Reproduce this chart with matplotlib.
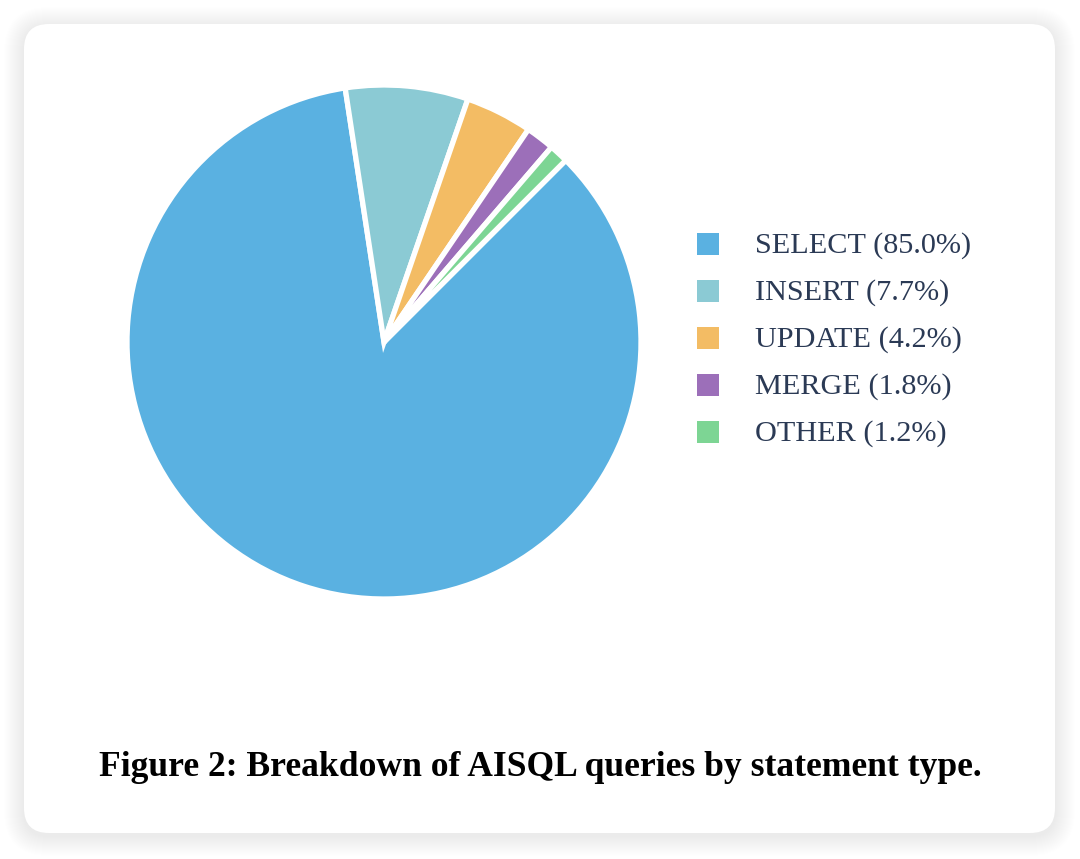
import matplotlib
matplotlib.use("Agg")
import matplotlib.pyplot as plt
from matplotlib.patches import FancyBboxPatch, Rectangle

# data
labels = ["SELECT", "INSERT", "UPDATE", "MERGE", "OTHER"]
shares = [85.0, 7.7, 4.2, 1.8, 1.2]
colors = ["#5ab1e1", "#8bcad4", "#f3bc64", "#9c6fb9", "#7dd594"]
title = "Figure 2: Breakdown of AISQL queries by statement type."

W, H = 1080, 859
fig = plt.figure(figsize=(W / 100, H / 100), dpi=100)
fig.patch.set_facecolor("white")

# background card with soft shadow, in pixel coords
bg = fig.add_axes([0, 0, 1, 1])
bg.set_xlim(0, W)
bg.set_ylim(H, 0)
bg.axis("off")
x0, y0, x1, y1 = 24, 24, 1055, 833
for k in range(20, 0, -1):
    sh = FancyBboxPatch((x0 - k, y0 - k + 3), (x1 - x0) + 2 * k, (y1 - y0) + 2 * k,
                        boxstyle="round,pad=0,rounding_size=%d" % (25 + k),
                        facecolor="black", edgecolor="none", alpha=0.005)
    bg.add_patch(sh)
card = FancyBboxPatch((x0, y0), x1 - x0, y1 - y0,
                      boxstyle="round,pad=0,rounding_size=25",
                      facecolor="white", edgecolor="none")
bg.add_patch(card)

# pie
cx, cy, r = 384, 342, 257
ax = fig.add_axes([(cx - r) / W, (H - cy - r) / H, 2 * r / W, 2 * r / H])
ax.pie(shares, colors=colors, startangle=45, counterclock=False, radius=1,
       wedgeprops=dict(edgecolor="white", linewidth=3.8))
ax.set_xlim(-1, 1)
ax.set_ylim(-1, 1)
ax.set_aspect("equal")
ax.axis("off")

# legend
ys = [244, 291, 338, 385, 432]
for lab, val, col, y in zip(labels, shares, colors, ys):
    bg.add_patch(Rectangle((697, y - 11), 22, 22, facecolor=col, edgecolor="none"))
    bg.text(755, y + 2, "%s (%.1f%%)" % (lab, val), fontsize=21.8, family="Liberation Serif",
            color="#2b3a55", va="center", ha="left")

bg.text(540, 768, title, fontsize=25.6, family="Liberation Serif", weight="bold",
        color="black", va="center", ha="center")

fig.savefig("out.png", dpi=100)
